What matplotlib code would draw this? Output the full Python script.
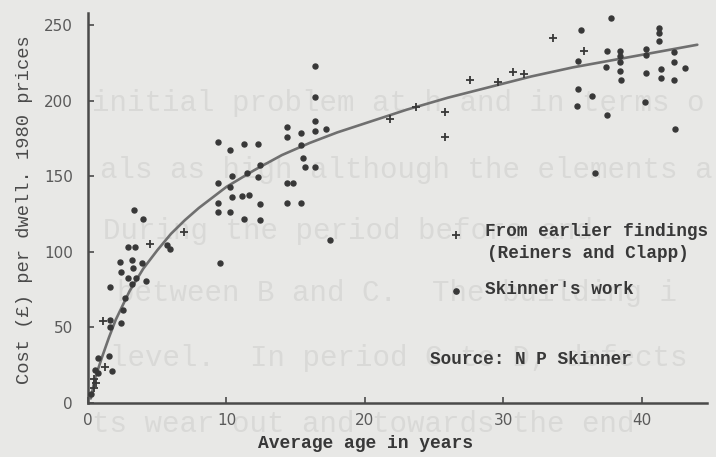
import matplotlib
matplotlib.use("Agg")
import matplotlib.pyplot as plt

# --- data ----------------------------------------------------------------
# Skinner's work (dots)
skinner_x = [0.25, 0.7, 0.5, 1.7, 0.75, 1.5,
             1.6, 2.4, 1.6, 2.5, 2.7, 1.6, 2.9, 3.5, 4.2, 3.2, 2.4, 3.25,
             2.3, 3.2, 3.9, 2.9, 3.4, 5.7, 5.9, 3.3, 3.95, 9.5, 17.5,
             9.4, 10.25, 11.3, 12.3, 12.4, 11.45, 10.4, 12.3, 9.4, 10.25,
             10.4, 11.1, 11.65, 12.4, 9.4, 9.4, 10.25, 11.3, 12.4,
             16.4, 16.4, 16.4, 14.35, 14.35, 15.4, 16.4, 17.2, 15.4, 15.55,
             15.7, 16.4, 14.35, 14.8, 14.35, 15.4,
             35.6, 35.4, 35.4, 36.4, 35.3, 36.6, 37.8, 37.8, 37.45, 37.4,
             37.45, 38.4, 38.4, 38.4, 38.45, 38.5, 40.3, 40.3, 40.3, 40.2,
             41.25, 41.25, 41.25, 41.4, 41.4, 42.3, 42.3, 42.3, 42.4, 43.1]
skinner_y = [6, 20, 22, 21, 30, 31,
             50, 53, 55, 61.5, 69.4, 77, 82.6, 82.6, 81, 79, 86.8, 89,
             93, 94.6, 92.5, 103, 103, 104.5, 102, 128, 121.5, 92.4, 108,
             172.8, 167.3, 171.3, 171.3, 157.4, 152.3, 150, 149.3, 145.7, 142.7,
             136, 137, 137.6, 131.6, 132, 126.5, 126.5, 122, 121,
             223, 202.6, 186.7, 182.3, 175.7, 178.4, 180, 181, 170.6, 161.8,
             155.9, 156.3, 145.7, 145.7, 132, 132.5,
             247, 226.4, 207.4, 203, 196.4, 152, 261, 254.4, 232.8, 222.4,
             190.5, 233, 229.5, 225.7, 219.8, 213.6, 234, 230, 218.5, 199.3,
             247.8, 244.5, 239.6, 220.7, 214.7, 232.3, 225.7, 214, 181, 221.3]

# From earlier findings (Reiners and Clapp) (plus signs)
earlier_x = [0.4, 0.6, 0.4, 1.2, 1.1, 4.5, 6.9,
             21.8, 23.7, 25.8, 25.8, 27.6, 29.6, 30.7, 31.5, 33.6, 35.8]
earlier_y = [10, 13, 16, 24, 54, 105, 113,
             188, 196, 192.7, 176, 213.5, 212.5, 219, 217.6, 241.6, 233]

# fitted curve, read at a few ages
curve_x = [0.2, 0.5, 1, 1.5, 2, 3, 4, 5, 6, 7, 8, 10, 12, 14, 16, 18, 20,
           23, 26, 29, 32, 35, 38, 41, 44]
curve_y = [3, 16, 30, 43, 55, 74, 89, 101, 112, 121, 129, 143, 154, 164, 172,
           179, 185, 194, 202, 209, 216, 222, 227, 232, 237]

x_ticks = [0, 10, 20, 30, 40]
y_ticks = [0, 50, 100, 150, 200, 250]

# faint text showing through from the back of the page (pixel x, pixel y)
bleed_lines = [
    (92, 103, "initial problem at h and in terms o"),
    (100, 170, "als as high although the elements a"),
    (103, 231, "During the period before and"),
    (117, 293, "between B and C.  The building i"),
    (110, 358, "level.  In period C to D, defects"),
    (92, 424, "ts wear out and towards the end"),
]

W, H = 716, 457
BG = "#e8e8e6"
INK = "#383838"
MONO = ["Liberation Mono", "DejaVu Sans Mono"]

fig = plt.figure(figsize=(W / 100, H / 100), dpi=100, facecolor=BG)

# drawn below the axes so that marks and labels sit on top of it
for px, py, s in bleed_lines:
    fig.text(px / W, 1 - py / H, s, family=MONO, fontsize=21, color="#d9d9d7",
             va="center", zorder=-1)

ax = fig.add_axes([88 / W, 1 - 403 / H, 619 / W, 390 / H])
ax.set_facecolor("none")
ax.set_xlim(0, 44.7)
ax.set_ylim(0, 258)

ax.plot(curve_x, curve_y, color="#6f6f6f", lw=1.9, solid_capstyle="round", zorder=2)
ax.plot(skinner_x, skinner_y, "o", ms=3.6, color=INK, mec=INK, zorder=3)
ax.plot(earlier_x, earlier_y, "+", ms=6, mew=1.3, color=INK, zorder=3)

for side in ("top", "right"):
    ax.spines[side].set_visible(False)
for side in ("left", "bottom"):
    ax.spines[side].set_color("#4a4a4a")
    ax.spines[side].set_linewidth(1.8)

ax.set_xticks(x_ticks)
ax.set_yticks(y_ticks)
ax.tick_params(axis="both", direction="in", length=4, width=1.2, color="#4a4a4a",
               labelsize=11, labelcolor="#5a5a5a")
ax.tick_params(axis="x", pad=7)
ax.tick_params(axis="y", pad=11)

fig.text(258 / W, 1 - 443 / H, "Average age in years", family=MONO, fontsize=13,
         fontweight="bold", color=INK, va="center")
fig.text(25 / W, 1 - 210 / H, "Cost (£) per dwell. 1980 prices", family=MONO,
         fontsize=13.5, color="#4a4a4a", rotation=90, ha="center", va="center")

# legend typed onto the chart
ax.plot([26.6], [111], "+", ms=6, mew=1.3, color=INK, clip_on=False)
ax.plot([26.6], [74], "o", ms=3.8, color=INK)
fig.text(485 / W, 1 - 231 / H, "From earlier findings", family=MONO,
         fontsize=12.8, fontweight="bold", color=INK, va="center")
fig.text(487 / W, 1 - 254 / H, "(Reiners and Clapp)", family=MONO,
         fontsize=12.8, fontweight="bold", color=INK, va="center")
fig.text(485 / W, 1 - 290 / H, "Skinner's work", family=MONO,
         fontsize=12.8, fontweight="bold", color=INK, va="center")
fig.text(430 / W, 1 - 359 / H, "Source: N P Skinner", family=MONO,
         fontsize=12.8, fontweight="bold", color=INK, va="center")

fig.savefig("out.png", dpi=100, facecolor=BG)
